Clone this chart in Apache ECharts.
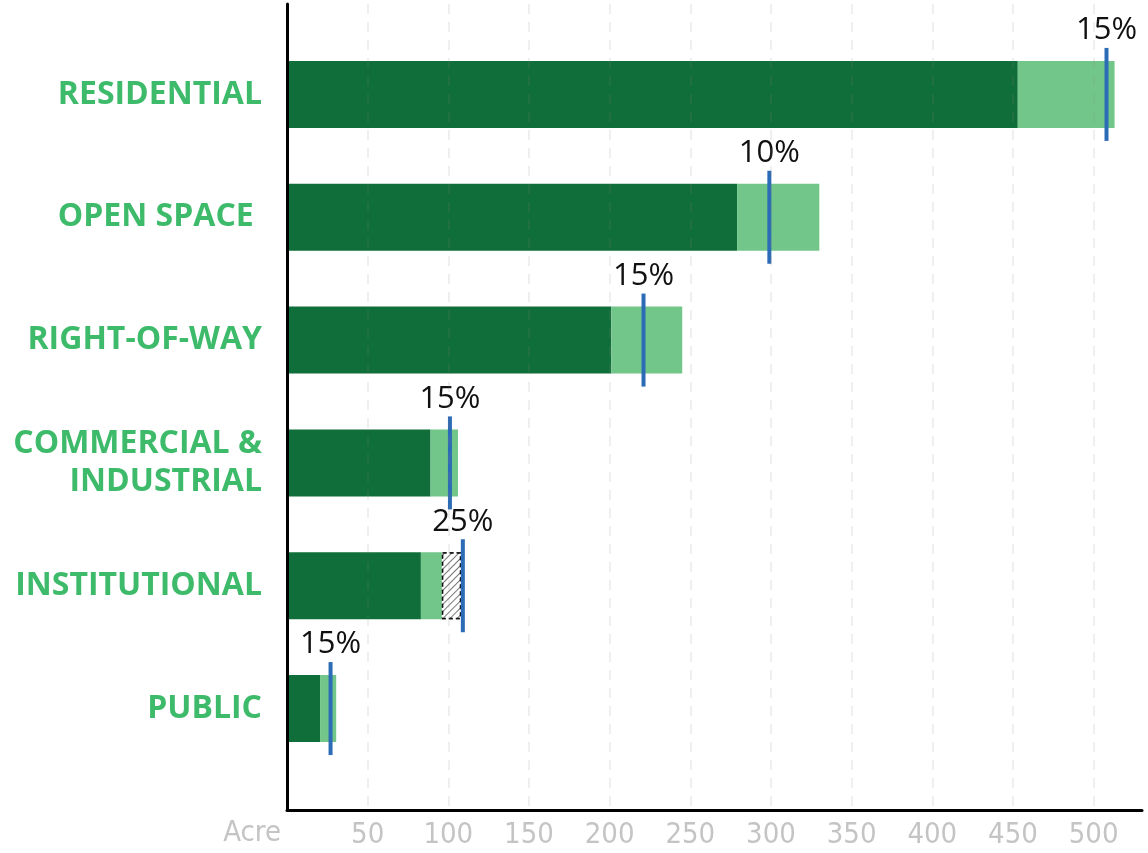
<!DOCTYPE html>
<html>
<head>
<meta charset="utf-8">
<script src="https://cdn.jsdelivr.net/npm/echarts@6/dist/echarts.min.js"></script>
<style>
  html, body { margin: 0; padding: 0; background: #fff; }
  #chart { width: 1148px; height: 853px; }
</style>
</head>
<body>
<div id="chart"></div>
<script>
// land use categories, top to bottom
var categories = ['RESIDENTIAL', 'OPEN SPACE ', 'RIGHT-OF-WAY', 'COMMERCIAL &\nINDUSTRIAL', 'INSTITUTIONAL', 'PUBLIC'];
// acres (dark part / light part / hatched part)
var baseAcres = [453, 279, 201, 89, 83, 20.5];
var extraAcres = [60, 51, 44, 17, 13, 10];
var hatchAcres = ['-', '-', '-', '-', 12, '-'];
// blue target marks + their labels
var targetAcres = [508, 299, 221, 101, 109, 27];
var targetPct = ['15%', '10%', '15%', '15%', '25%', '15%'];
var xTicks = [50, 100, 150, 200, 250, 300, 350, 400, 450, 500];

var chart = echarts.init(document.getElementById('chart'));

var xMax = 530;
var tickFont = "'DejaVu Sans Condensed', 'Liberation Sans Narrow', Roboto, sans-serif";

chart.setOption({
  animation: false,
  grid: [
    // frame grid: axis lines, grid lines, tick labels
    { left: 287, right: 6, top: 4, bottom: 43 },
    // bar grid
    { left: 287, right: 6, top: 33, bottom: 83 }
  ],
  xAxis: [
    {
      gridIndex: 0,
      type: 'value',
      min: 0,
      max: xMax,
      interval: 50,
      z: 5,
      name: 'Acre',
      nameLocation: 'start',
      nameGap: 6,
      nameTextStyle: {
        color: '#c4c4c4',
        fontFamily: tickFont,
        fontWeight: 300,
        fontSize: 29,
        verticalAlign: 'top',
        padding: [9, 0, 0, 0]
      },
      axisLine: { show: true, lineStyle: { color: '#000', width: 3 } },
      axisTick: { show: false },
      axisLabel: {
        color: '#c4c4c4',
        fontFamily: tickFont,
        fontWeight: 300,
        fontSize: 29,
        margin: 11,
        showMinLabel: false,
        showMaxLabel: false,
        formatter: function (v) { return xTicks.indexOf(v) >= 0 ? String(v) : ''; }
      },
      splitLine: {
        show: true,
        showMinLine: false,
        showMaxLine: false,
        lineStyle: { color: 'rgba(140,140,140,0.18)', type: [10, 8], width: 1.5 }
      }
    },
    {
      gridIndex: 1,
      type: 'value',
      min: 0,
      max: xMax,
      show: false
    }
  ],
  yAxis: [
    {
      gridIndex: 0,
      type: 'value',
      z: 5,
      axisLine: { show: true, lineStyle: { color: '#000', width: 3 } },
      axisTick: { show: false },
      axisLabel: { show: false },
      splitLine: { show: false }
    },
    {
      gridIndex: 1,
      type: 'category',
      inverse: true,
      data: categories,
      axisLine: { show: false },
      axisTick: { show: false },
      axisLabel: {
        color: '#3dba6a',
        fontFamily: 'Open Sans',
        fontWeight: 'bold',
        fontSize: 32,
        lineHeight: 38,
        margin: 25,
        align: 'right',
        padding: [0, 0, 8, 0]
      }
    }
  ],
  series: [
    {
      type: 'bar',
      name: 'base',
      xAxisIndex: 1,
      yAxisIndex: 1,
      stack: 'acre',
      barWidth: 67,
      itemStyle: { color: '#106e3a' },
      data: baseAcres
    },
    {
      type: 'bar',
      name: 'extra',
      xAxisIndex: 1,
      yAxisIndex: 1,
      stack: 'acre',
      barWidth: 67,
      itemStyle: { color: '#73c68a' },
      data: extraAcres
    },
    {
      type: 'bar',
      name: 'hatch',
      xAxisIndex: 1,
      yAxisIndex: 1,
      stack: 'acre',
      barWidth: 67,
      itemStyle: {
        color: '#fff',
        borderColor: '#111',
        borderWidth: 1.5,
        borderType: [4, 3],
        decal: {
          symbol: 'rect',
          symbolSize: 1,
          color: '#777',
          backgroundColor: '#fff',
          dashArrayX: [1, 0],
          dashArrayY: [1, 4],
          rotation: -Math.PI / 4
        }
      },
      data: hatchAcres
    },
    {
      type: 'scatter',
      name: 'target',
      xAxisIndex: 1,
      yAxisIndex: 1,
      symbol: 'rect',
      symbolSize: [4, 93],
      z: 4,
      itemStyle: { color: '#2c6bb5', opacity: 1 },
      label: {
        show: true,
        position: 'top',
        distance: 2,
        color: '#111',
        fontFamily: 'Open Sans',
        fontSize: 31,
        formatter: function (p) { return targetPct[p.dataIndex]; }
      },
      data: targetAcres.map(function (v, i) { return [v, i]; })
    }
  ]
});
</script>
</body>
</html>
